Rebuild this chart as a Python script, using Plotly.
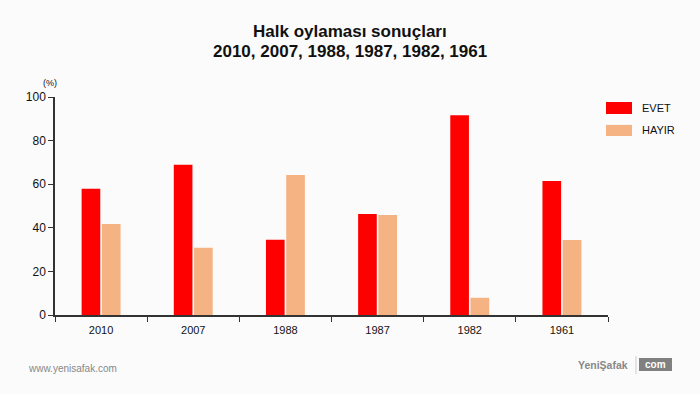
import plotly.graph_objects as go

years = ["2010", "2007", "1988", "1987", "1982", "1961"]
evet = [57.9, 68.9, 34.5, 46.3, 91.6, 61.5]
hayir = [41.7, 30.8, 64.2, 45.9, 7.9, 34.4]
series_names = ["EVET", "HAYIR"]
colors = ["#ff0000", "#f5b282"]
yticks = [0, 20, 40, 60, 80, 100]
title_lines = ["Halk oylaması sonuçları", "2010, 2007, 1988, 1987, 1982, 1961"]

FONT = "Liberation Sans, Arial, sans-serif"

fig = go.Figure()
for name, vals, col in zip(series_names, [evet, hayir], colors):
    fig.add_trace(go.Bar(x=years, y=vals, name=name, marker=dict(color=col, line=dict(width=0)),
                         showlegend=False))

fig.update_layout(
    width=700, height=394,
    margin=dict(l=55, r=92, t=97, b=79),
    paper_bgcolor="#fbfbfb", plot_bgcolor="rgba(0,0,0,0)",
    barmode="group", bargap=0.56, bargroupgap=0.08,
    font=dict(family=FONT, color="#111"),
    xaxis=dict(type="category", tickson="boundaries", ticks="outside", ticklen=5,
               tickcolor="#333", showline=True, linecolor="#333", linewidth=1.5,
               ticklabelstandoff=4,
               showgrid=False, tickfont=dict(size=11, family=FONT, color="#111"), fixedrange=True),
    yaxis=dict(range=[0, 100], tickvals=yticks, ticks="outside", ticklen=5, tickcolor="#333",
               showline=True, linecolor="#333", linewidth=1.5, showgrid=False, zeroline=False,
               tickfont=dict(size=12, family=FONT, color="#111"), fixedrange=True),
)

# title lines
for txt, yy in zip(title_lines, [1.300, 1.209]):
    fig.add_annotation(text="<b>" + txt + "</b>", xref="paper", yref="paper", x=(350 - 55) / 553,
                       y=yy, xanchor="center", yanchor="middle", showarrow=False,
                       font=dict(size=17, family=FONT, color="#111"))

# custom legend
leg_y = [(0.977, 0.922, 0.950), (0.872, 0.821, 0.849)]
for name, col, (y1, y0, yc) in zip(series_names, colors, leg_y):
    fig.add_shape(type="rect", xref="paper", yref="paper", x0=0.9964, x1=1.0434, y0=y0, y1=y1,
                  fillcolor=col, line=dict(width=0))
    fig.add_annotation(text=name, xref="paper", yref="paper", x=1.058, y=yc, xanchor="left",
                       yanchor="middle", showarrow=False, font=dict(size=11, family=FONT, color="#111"))

fig.add_annotation(text="(%)", xref="paper", yref="paper", x=-0.009, y=1.064, xanchor="center",
                   yanchor="middle", showarrow=False, font=dict(size=9, family=FONT, color="#111"))
fig.add_annotation(text="www.yenisafak.com", xref="paper", yref="paper", x=-0.0524, y=-0.2477,
                   xanchor="left", yanchor="middle", showarrow=False,
                   font=dict(size=10, family=FONT, color="#888"))
fig.add_annotation(text="<b>YeniŞafak</b>", xref="paper", yref="paper", x=1.0398, y=-0.229,
                   xanchor="right", yanchor="middle", showarrow=False,
                   font=dict(size=10.5, family=FONT, color="#888"))
fig.add_shape(type="line", xref="paper", yref="paper", x0=1.0506, x1=1.0506, y0=-0.271, y1=-0.188,
              line=dict(color="#ccc", width=1))
fig.add_shape(type="rect", xref="paper", yref="paper", x0=(639 - 55) / 553, x1=(672 - 55) / 553,
              y0=(315 - 371) / 218, y1=(315 - 358) / 218, fillcolor="#808080", line=dict(width=0))
fig.add_annotation(text="<b>com</b>", xref="paper", yref="paper", x=(655.5 - 55) / 553,
                   y=(315 - 364.5) / 218, xanchor="center", yanchor="middle", showarrow=False,
                   font=dict(size=10, family=FONT, color="#fff"))

fig.write_html("out.html")
